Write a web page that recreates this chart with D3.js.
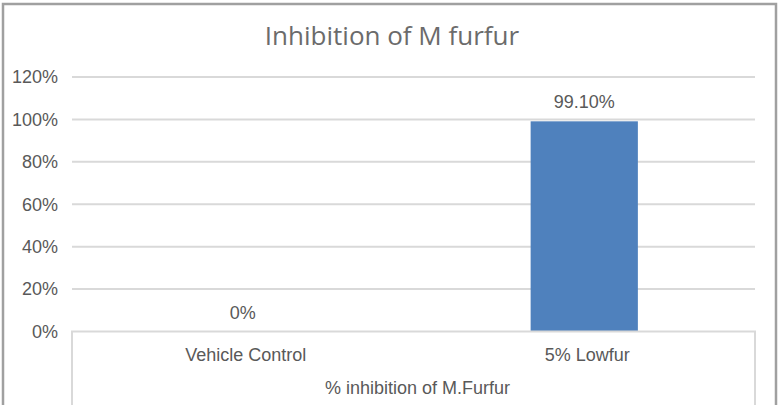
<!DOCTYPE html>
<html>
<head>
<meta charset="utf-8">
<script src="https://cdn.jsdelivr.net/npm/d3@7"></script>
<style>
  html, body { margin: 0; padding: 0; background: #fff; }
  svg { display: block; }
</style>
</head>
<body>
<div id="chart"></div>
<script>
// chart data
var categories = ["Vehicle Control", "5% Lowfur"];
var values = [0, 0.991];
var valueLabels = ["0%", "99.10%"];
var yTicks = [0, 0.2, 0.4, 0.6, 0.8, 1.0, 1.2];
var groupLabel = "% inhibition of M.Furfur";
var title = "Inhibition of M furfur";

var W = 778, H = 405;
var margin = {top: 77, right: 23, bottom: 74, left: 72},
    width = W - margin.left - margin.right,
    height = H - margin.top - margin.bottom;

var svg = d3.select("#chart")
  .append("svg")
    .attr("width", W)
    .attr("height", H);

// outer chart border (bottom edge is cut off in the picture)
svg.append("path")
  .attr("d", "M3,406 V4 H776 V406")
  .attr("fill", "none")
  .attr("stroke", "#a0a0a0")
  .attr("stroke-width", 2.5);

svg.append("text")
  .attr("x", 392)
  .attr("y", 45)
  .attr("text-anchor", "middle")
  .attr("font-family", "'Open Sans', sans-serif")
  .attr("font-size", 26)
  .attr("fill", "#6b6b6b")
  .text(title);

var g = svg.append("g")
  .attr("transform", "translate(" + margin.left + "," + margin.top + ")");

var x = d3.scaleBand()
  .domain(categories)
  .range([0, width])
  .paddingInner(0.686)
  .paddingOuter(0.343);

var xc = d3.scaleBand().domain(categories).range([0, width]);

var y = d3.scaleLinear()
  .domain([0, 1.2])
  .range([height + 0.5, 0]);

// gridlines
g.selectAll(".grid")
  .data(yTicks.slice(1))
  .enter().append("line")
    .attr("x1", 0).attr("x2", width)
    .attr("y1", function(d) { return y(d); })
    .attr("y2", function(d) { return y(d); })
    .attr("stroke", "#d9d9d9")
    .attr("stroke-width", 2);

// y axis labels
var yAxis = g.append("g")
  .call(d3.axisLeft(y).tickValues(yTicks).tickFormat(d3.format(".0%")).tickSize(0).tickPadding(14));
yAxis.select(".domain").remove();
yAxis.selectAll("text")
  .attr("font-family", "'Liberation Sans', Arial, sans-serif")
  .attr("font-size", 18)
  .attr("fill", "#595959");

// bars
g.selectAll(".bar")
  .data(values)
  .enter().append("rect")
    .attr("x", function(d, i) { return x(categories[i]); })
    .attr("width", x.bandwidth())
    .attr("y", function(d) { return y(d); })
    .attr("height", function(d) { return y(0) - y(d); })
    .attr("fill", "#4f81bd");

// data labels
g.selectAll(".lbl")
  .data(values)
  .enter().append("text")
    .attr("x", function(d, i) { return x(categories[i]) + x.bandwidth() / 2; })
    .attr("y", function(d) { return y(d) - 13; })
    .attr("text-anchor", "middle")
    .attr("font-family", "'Liberation Sans', Arial, sans-serif")
    .attr("font-size", 18)
    .attr("fill", "#595959")
    .text(function(d, i) { return valueLabels[i]; });

// category axis box (multi-level)
g.append("path")
  .attr("d", "M0," + (H - margin.top + 2) + " V" + y(0) + " H" + width + " V" + (H - margin.top + 2))
  .attr("fill", "none")
  .attr("stroke", "#d9d9d9")
  .attr("stroke-width", 2);

g.selectAll(".cat")
  .data(categories)
  .enter().append("text")
    .attr("x", function(d) { return xc(d) + xc.bandwidth() / 2 + 3; })
    .attr("y", y(0) + 29)
    .attr("text-anchor", "middle")
    .attr("font-family", "'Liberation Sans', Arial, sans-serif")
    .attr("font-size", 18)
    .attr("fill", "#595959")
    .text(function(d) { return d; });

g.append("text")
  .attr("x", width / 2 + 4)
  .attr("y", y(0) + 62)
  .attr("text-anchor", "middle")
  .attr("font-family", "'Liberation Sans', Arial, sans-serif")
  .attr("font-size", 18)
  .attr("fill", "#595959")
  .text(groupLabel);
</script>
</body>
</html>
